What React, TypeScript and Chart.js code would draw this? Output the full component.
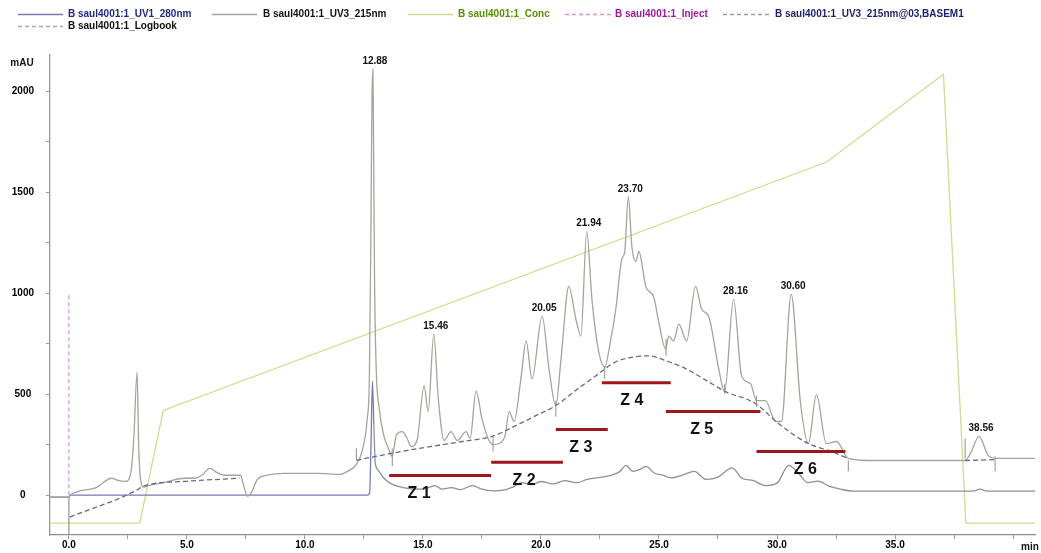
import React, { useEffect, useRef } from 'react';
import { Chart, registerables } from 'chart.js';

Chart.register(...registerables);

// Retention time (min) / absorbance (mAU) traces
const uv1Trace: [number, number][] = [
  [-0.8, -10], [0, -10], [0.05, 0], [12.6, 0], [12.74, 8], [12.8, 250], [12.86, 565], [12.92, 350],
  [12.98, 160], [13.1, 125], [13.3, 90], [13.6, 60], [14.0, 42], [14.5, 32], [15.0, 30], [15.3, 40],
  [15.5, 48], [15.8, 30], [16.2, 38], [16.6, 28], [17.1, 48], [17.5, 30], [18.0, 22], [18.4, 25],
  [18.8, 40], [19.2, 62], [19.6, 52], [20.0, 68], [20.5, 56], [21.0, 72], [21.5, 62], [22.0, 80],
  [22.5, 88], [23.0, 100], [23.35, 118], [23.6, 148], [23.9, 118], [24.2, 128], [24.45, 143],
  [24.8, 110], [25.2, 98], [25.5, 86], [26.0, 100], [26.5, 118], [27.0, 78], [27.5, 90], [28.1, 135],
  [28.5, 85], [29.0, 72], [29.5, 48], [30.0, 60], [30.5, 148], [30.9, 110], [31.3, 62], [31.75, 70],
  [32.2, 45], [32.7, 30], [33.2, 20], [38.3, 20], [38.6, 30], [38.9, 20], [40.93, 20],
];

const uv3Trace: [number, number][] = [
  [-0.8, -10], [0, -10], [0.05, 0], [1.1, 35], [1.82, 84], [2.07, 74], [2.41, 69], [2.62, 108],
  [2.75, 281], [2.89, 609], [2.96, 232], [3.04, 74], [3.17, 40], [3.42, 49], [4.06, 64], [4.9, 84],
  [5.37, 84], [5.67, 103], [5.96, 133], [6.26, 113], [6.6, 99], [7.27, 99], [7.4, 49], [7.57, -5],
  [7.74, 15], [7.99, 79], [8.41, 99], [9.13, 108], [10.61, 108], [11.46, 103], [11.88, 123],
  [12.18, 153], [12.43, 222], [12.64, 379], [12.73, 576], [12.79, 1217], [12.84, 1956], [12.88, 2110],
  [12.91, 1709], [12.95, 1069], [13.02, 626], [13.15, 429], [13.32, 305], [13.57, 222], [13.7, 192],
  [13.87, 296], [14.12, 315], [14.33, 281], [14.5, 241], [14.75, 272], [15.05, 542], [15.22, 414],
  [15.46, 798], [15.65, 478], [15.9, 271], [16.19, 315], [16.45, 271], [16.83, 315], [17.0, 281],
  [17.25, 517], [17.5, 379], [17.76, 281], [17.97, 251], [18.22, 256], [18.48, 296], [18.65, 414],
  [18.86, 365], [19.15, 576], [19.37, 764], [19.62, 576], [20.05, 887], [20.34, 626], [20.63, 443],
  [20.85, 675], [21.18, 1034], [21.48, 872], [21.69, 788], [21.94, 1305], [22.16, 970], [22.45, 709],
  [22.7, 635], [22.96, 773], [23.17, 921], [23.42, 1167], [23.55, 1207], [23.7, 1478], [23.85, 1232],
  [24.02, 1158], [24.15, 1207], [24.44, 1034], [24.78, 980], [24.99, 857], [25.28, 724], [25.41, 788],
  [25.62, 764], [25.84, 847], [26.17, 764], [26.55, 1034], [26.81, 921], [27.1, 887], [27.53, 626],
  [27.78, 512], [28.16, 970], [28.5, 591], [28.88, 552], [29.13, 468], [29.51, 468], [29.94, 365],
  [30.19, 365], [30.6, 995], [30.99, 463], [31.33, 256], [31.67, 498], [32.09, 256], [32.52, 266],
  [33.02, 182], [33.87, 172], [37.97, 172], [38.2, 207], [38.56, 291], [38.98, 192], [39.4, 182],
  [40.93, 182],
];

// Integration baseline (BASEM1), drawn in separate pieces
const baselineSegments: [number, number][][] = [
  [[0.04, -108], [2.88, 25], [3.13, 44], [4.98, 69], [7.23, 84]],
  [[12.18, 173], [13.66, 207], [14.84, 232], [16.66, 266], [17.93, 291], [18.94, 345], [19.8, 395],
   [20.63, 444], [21.48, 520], [22.33, 592], [23.17, 661], [24.02, 686], [24.57, 690], [25.41, 661],
   [26.13, 627], [26.98, 570], [27.82, 513], [29.09, 454], [30.06, 355], [31.33, 256], [32.3, 217],
   [33.02, 182]],
  [[37.97, 172], [39.24, 176]],
];

// Gradient concentration program (plotted on the mAU axis)
const concProgram: [number, number][] = [
  [-0.8, -138], [3.0, -138], [4.0, 420], [32.1, 1650], [37.05, 2085], [38.0, -138], [40.93, -138],
];

const injectMark: [number, number][] = [[0, 0], [0, 1000]];
const logbookMark: [number, number][] = [[0, -197], [0, -10]];

// Peak start/end integration marks: time, from, to
const integrationMarks: [number, number, number][] = [
  [12.18, 173, 232], [13.7, 143, 232], [17.97, 217, 291], [20.63, 389, 468], [22.7, 576, 640],
  [25.3, 690, 773], [27.78, 502, 552], [29.13, 438, 493], [33.02, 118, 172], [37.97, 182, 281],
  [39.24, 118, 192],
];

const peakTimes = [12.88, 15.46, 20.05, 21.94, 23.7, 28.16, 30.6, 38.56];

// Fraction zones
const zoneNames = ['Z 1', 'Z 2', 'Z 3', 'Z 4', 'Z 5', 'Z 6'];
const zoneStart = [13.57, 17.89, 20.63, 22.58, 25.29, 29.13];
const zoneEnd = [17.89, 20.93, 22.83, 25.5, 29.3, 32.9];
const zoneLevel = [98, 163, 325, 557, 414, 217];
const zoneLabelAt = [14.84, 19.28, 21.69, 23.85, 26.81, 31.2];

const yTicks = [0, 250, 500, 750, 1000, 1250, 1500, 1750, 2000];
const xTicks = [0, 2.5, 5, 7.5, 10, 12.5, 15, 17.5, 20, 22.5, 25, 27.5, 30, 32.5, 35, 37.5, 40];

const FONT = '"Liberation Sans", Arial, sans-serif';

const COLORS = {
  uv1: '#777bb0',
  uv1Tail: '#8e8f9c',
  uv3: '#a4a49a',
  conc: '#cddd92',
  inject: '#d796d6',
  base: '#66698e',
  logbook: '#9a9a92',
  zone: '#9e171b',
};

const toXY = (pts: [number, number][]) => pts.map(([x, y]) => ({ x, y }));

const legendItems = [
  { row: 0, x0: 18, x1: 63, tx: 68, line: COLORS.uv1, dash: [] as number[], text: 'B saul4001:1_UV1_280nm', textColor: '#1f2a85' },
  { row: 0, x0: 212, x1: 257, tx: 263, line: COLORS.uv3, dash: [], text: 'B saul4001:1_UV3_215nm', textColor: '#111111' },
  { row: 0, x0: 408, x1: 453, tx: 458, line: COLORS.conc, dash: [], text: 'B saul4001:1_Conc', textColor: '#5a8f00' },
  { row: 0, x0: 565, x1: 612, tx: 615, line: COLORS.inject, dash: [4, 3], text: 'B saul4001:1_Inject', textColor: '#a0179c' },
  { row: 0, x0: 723, x1: 770, tx: 775, line: '#9a9cb8', dash: [4, 3], text: 'B saul4001:1_UV3_215nm@03,BASEM1', textColor: '#1c1f6e' },
  { row: 1, x0: 18, x1: 63, tx: 68, line: '#a8a8a8', dash: [4, 3], text: 'B saul4001:1_Logbook', textColor: '#111111' },
];

const annotations = {
  id: 'chromAnnotations',
  afterDatasetsDraw(chart: any) {
    const { ctx, scales } = chart;
    const xs = scales.x;
    const ys = scales.y;
    ctx.save();

    // peak retention-time labels
    ctx.font = `bold 10px ${FONT}`;
    ctx.fillStyle = '#111';
    ctx.textAlign = 'center';
    ctx.textBaseline = 'bottom';
    peakTimes.forEach((t) => {
      const pt = uv3Trace.find((p) => p[0] === t);
      if (!pt) return;
      ctx.fillText(t.toFixed(2), xs.getPixelForValue(t) + 2, ys.getPixelForValue(pt[1]) - 3);
    });

    // zone labels
    ctx.font = `bold 16px ${FONT}`;
    ctx.fillStyle = '#111';
    ctx.textBaseline = 'middle';
    zoneNames.forEach((name, i) => {
      ctx.fillText(name, xs.getPixelForValue(zoneLabelAt[i]), ys.getPixelForValue(zoneLevel[i]) + 18);
    });

    // axis units
    ctx.font = `bold 10px ${FONT}`;
    ctx.fillText('mAU', 22, 63);
    ctx.fillText('min', 1030, 547);

    // legend
    legendItems.forEach((it) => {
      const y = it.row === 0 ? 14 : 26;
      ctx.beginPath();
      ctx.setLineDash(it.dash);
      ctx.strokeStyle = it.line;
      ctx.lineWidth = 1.5;
      ctx.moveTo(it.x0, y + 0.5);
      ctx.lineTo(it.x1, y + 0.5);
      ctx.stroke();
      ctx.setLineDash([]);
      ctx.fillStyle = it.textColor;
      ctx.textAlign = 'left';
      ctx.textBaseline = 'middle';
      ctx.font = `bold 10px ${FONT}`;
      ctx.fillText(it.text, it.tx, y);
    });

    ctx.restore();
  },
};

export default function App() {
  const ref = useRef<HTMLCanvasElement>(null);

  useEffect(() => {
    document.body.style.margin = '0';
    const canvas = ref.current;
    if (!canvas) return;

    const baselineData: any[] = [];
    baselineSegments.forEach((seg, i) => {
      baselineData.push(...toXY(seg));
      if (i < baselineSegments.length - 1) baselineData.push({ x: seg[seg.length - 1][0], y: null });
    });

    const markData: any[] = [];
    integrationMarks.forEach(([t, a, b]) => {
      markData.push({ x: t, y: a }, { x: t, y: b }, { x: t, y: null });
    });

    const zoneData: any[] = [];
    zoneNames.forEach((_, i) => {
      zoneData.push({ x: zoneStart[i], y: zoneLevel[i] }, { x: zoneEnd[i], y: zoneLevel[i] }, { x: zoneEnd[i], y: null });
    });

    const line = (extra: any) => ({
      pointRadius: 0,
      borderWidth: 1.3,
      fill: false,
      spanGaps: false,
      ...extra,
    });

    const chart = new Chart(canvas, {
      type: 'line',
      data: {
        datasets: [
          line({ label: 'Zones', data: zoneData, borderColor: COLORS.zone, borderWidth: 3 }),
          line({ label: 'Marks', data: markData, borderColor: '#8f8f86', borderWidth: 1 }),
          line({ label: 'B saul4001:1_UV3_215nm@03,BASEM1', data: baselineData, borderColor: COLORS.base, borderDash: [5, 3], cubicInterpolationMode: 'monotone' }),
          line({ label: 'B saul4001:1_UV3_215nm', data: toXY(uv3Trace), borderColor: COLORS.uv3, cubicInterpolationMode: 'monotone' }),
          line({
            label: 'B saul4001:1_UV1_280nm',
            data: toXY(uv1Trace),
            borderColor: COLORS.uv1,
            cubicInterpolationMode: 'monotone',
            segment: { borderColor: (c: any) => (c.p0.parsed.x >= 12.92 ? COLORS.uv1Tail : COLORS.uv1) },
          }),
          line({ label: 'B saul4001:1_Inject', data: toXY(injectMark), borderColor: COLORS.inject, borderDash: [4, 3] }),
          line({ label: 'B saul4001:1_Logbook', data: toXY(logbookMark), borderColor: COLORS.logbook }),
          line({ label: 'B saul4001:1_Conc', data: toXY(concProgram), borderColor: COLORS.conc }),
        ],
      },
      options: {
        animation: false,
        responsive: false,
        events: [],
        layout: { padding: { top: 55, right: 6, left: 0, bottom: 0 } },
        plugins: { legend: { display: false }, tooltip: { enabled: false } },
        scales: {
          x: {
            type: 'linear',
            min: -0.8,
            max: 40.93,
            afterBuildTicks: (s: any) => { s.ticks = xTicks.map((v) => ({ value: v })); },
            afterFit: (s: any) => { s.height = 16; },
            ticks: {
              autoSkip: false,
              maxRotation: 0,
              padding: 0,
              color: '#000',
              font: { family: FONT, size: 10, weight: 'bold' },
              callback: (v: any) => (v % 5 === 0 && v <= 35 ? Number(v).toFixed(1) : ''),
            },
            grid: { drawOnChartArea: false, drawTicks: true, tickLength: 4, color: '#9a9a9a' },
            border: { display: true, color: '#8e8e8e', width: 1.3 },
          },
          y: {
            type: 'linear',
            min: -197,
            max: 2180,
            afterBuildTicks: (s: any) => { s.ticks = yTicks.map((v) => ({ value: v })); },
            afterFit: (s: any) => { s.width = 50; },
            ticks: {
              autoSkip: false,
              crossAlign: 'center',
              padding: 12,
              color: '#000',
              font: { family: FONT, size: 10, weight: 'bold' },
              callback: (v: any) => (v % 500 === 0 ? String(v) : ''),
            },
            grid: { drawOnChartArea: false, drawTicks: true, tickLength: 4, color: '#9a9a9a' },
            border: { display: true, color: '#9a9a90', width: 1.3 },
          },
        },
      },
      plugins: [annotations],
    } as any);

    return () => chart.destroy();
  }, []);

  return (
    <div style={{ position: 'absolute', left: 0, top: 0, width: 1041, height: 553, background: '#fff' }}>
      <canvas ref={ref} width={1041} height={553} style={{ display: 'block' }} />
    </div>
  );
}
